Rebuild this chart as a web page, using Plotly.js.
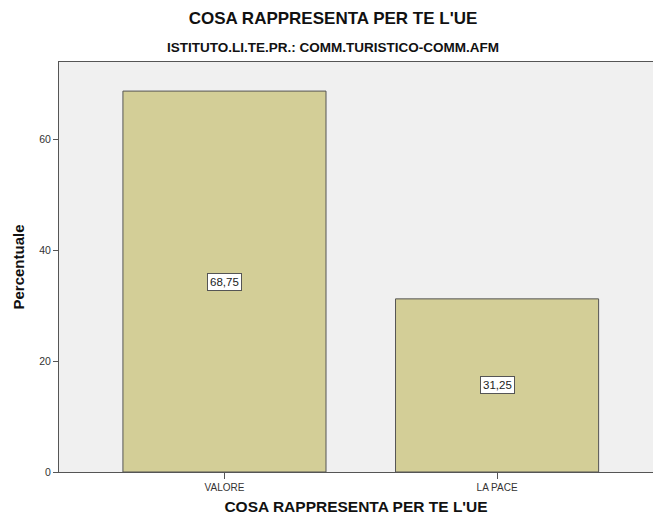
<!DOCTYPE html>
<html><head><meta charset="utf-8">
<script src="https://cdn.plot.ly/plotly-3.0.1.min.js"></script>
<style>html,body{margin:0;padding:0;background:#fff}#c{width:653px;height:521px}</style>
</head><body><div id="c"></div>
<script>
const categories = ["VALORE", "LA PACE"];
const percent = [68.75, 31.25];
const yTicks = [0, 20, 40, 60];

const fmt = v => v.toFixed(2).replace('.', ',');
const F = "Liberation Sans, Arial, sans-serif";

const trace = {
  type: 'bar', x: categories, y: percent, width: 0.745,
  marker: {color: '#d3ce97', line: {color: '#555555', width: 1}},
  hoverinfo: 'none'
};

const annotations = categories.map((c, i) => ({
  x: c, y: percent[i] / 2, xref: 'x', yref: 'y', text: fmt(percent[i]),
  showarrow: false, bgcolor: '#ffffff', bordercolor: '#555555', borderwidth: 1, borderpad: 2,
  font: {family: F, size: 11.5, color: '#222'}
}));
annotations.push({
  text: '<b>ISTITUTO.LI.TE.PR.: COMM.TURISTICO-COMM.AFM</b>', xref: 'paper', yref: 'paper',
  x: (333 - 59) / 594, y: 1, yshift: 15, xanchor: 'center', yanchor: 'middle', showarrow: false,
  font: {family: F, size: 13.5, color: '#111'}
});

const layout = {
  width: 653, height: 521,
  margin: {l: 59, r: 0, t: 62, b: 49},
  paper_bgcolor: '#ffffff', plot_bgcolor: '#f0f0f0',
  separators: ',.',
  showlegend: false,
  title: {text: "<b>COSA RAPPRESENTA PER TE L'UE</b>", x: 333 / 653, xref: 'container', xanchor: 'center',
          y: 0.965, yanchor: 'middle',
          font: {family: F, size: 17, color: '#111'}},
  xaxis: {
    range: [-0.607, 1.572], showgrid: false, zeroline: false,
    showline: true, mirror: true, linecolor: '#555555', linewidth: 1,
    ticks: 'outside', ticklen: 6, tickcolor: '#555555',
    tickfont: {family: F, size: 10, color: '#333'},
    title: {text: "<b>COSA RAPPRESENTA PER TE L'UE</b>", standoff: 9, font: {family: F, size: 15.5, color: '#111'}}
  },
  yaxis: {
    range: [0, 74], showgrid: false, zeroline: false,
    showline: true, linecolor: '#555555', linewidth: 1,
    tickvals: yTicks, ticktext: yTicks.map(String),
    ticks: 'outside', ticklen: 5, tickcolor: '#555555',
    tickfont: {family: F, size: 10.5, color: '#333'},
    title: {text: '<b>Percentuale</b>', standoff: 10, font: {family: F, size: 15, color: '#111'}}
  },
  annotations: annotations
};

Plotly.newPlot('c', [trace], layout, {displayModeBar: false, staticPlot: true});
</script></body></html>
